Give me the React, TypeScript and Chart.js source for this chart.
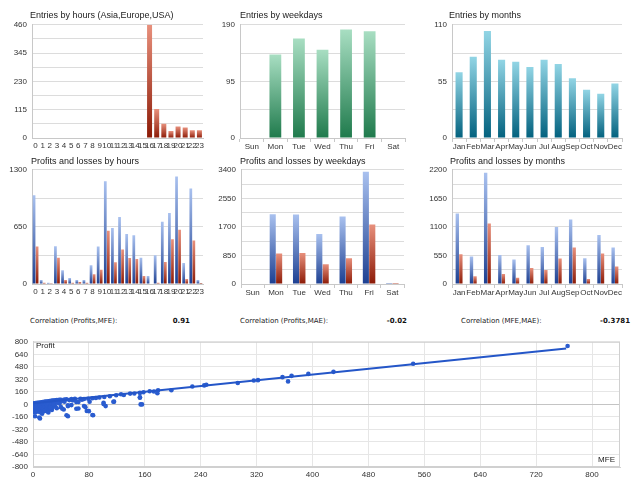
import { useEffect, useRef } from "react";
import { Chart, registerables } from "chart.js";

Chart.register(...registerables);

const hourLabels = ['0', '1', '2', '3', '4', '5', '6', '7', '8', '9', '10', '11', '12', '13', '14', '15', '16', '17', '18', '19', '20', '21', '22', '23'];
const dayLabels = ['Sun', 'Mon', 'Tue', 'Wed', 'Thu', 'Fri', 'Sat'];
const monthLabels = ['Jan', 'Feb', 'Mar', 'Apr', 'May', 'Jun', 'Jul', 'Aug', 'Sep', 'Oct', 'Nov', 'Dec'];

const entriesByHour = [0, 0, 0, 0, 0, 0, 0, 0, 0, 0, 0, 0, 0, 0, 0, 0, 460, 118, 58, 28, 47, 43, 31, 32];
const entriesByDay = [0, 140, 167, 148, 182, 179, 0];
const entriesByMonth = [64, 79, 104, 76, 74, 69, 76, 72, 58, 47, 43, 53];

const profitByHour = [1010, 45, 15, 431, 157, 67, 45, 45, 213, 427, 1169, 637, 764, 569, 554, 300, 90, 326, 708, 809, 1225, 240, 1086, 45];
const lossByHour = [427, 15, 3, 300, 45, 15, 22, 15, 112, 161, 607, 247, 393, 296, 285, 90, 0, 15, 251, 510, 618, 56, 494, 10];
const profitByDay = [0, 2079, 2070, 1488, 2010, 3341, 30];
const lossByDay = [0, 907, 926, 591, 769, 1774, 30];
const profitByMonth = [1358, 529, 2143, 561, 472, 746, 714, 1097, 1243, 497, 944, 701];
const lossByMonth = [574, 147, 1167, 191, 121, 306, 268, 491, 701, 96, 587, 338];

const correlations = [
  { label: 'Correlation (Profits,MFE):', value: '0.91' },
  { label: 'Correlation (Profits,MAE):', value: '-0.02' },
  { label: 'Correlation (MFE,MAE):', value: '-0.3781' },
];

// scatter: MFE vs Profit
const mfeValues = [
  0, 0, 0, 0, 1, 1, 1, 2, 2, 2, 2, 3, 3, 3, 4, 4, 4, 5, 5, 5, 6, 6, 6, 7, 7, 7, 8, 8, 9, 9,
  10, 10, 10, 11, 11, 12, 12, 13, 13, 14, 14, 15, 15, 16, 16, 17, 18, 18, 19, 20, 20, 21, 22, 22, 23, 24, 24, 26, 26, 27,
  28, 28, 30, 30, 32, 32, 34, 34, 36, 38, 38, 40, 42, 45, 48, 52, 55, 58, 60, 62, 68, 70, 85, 95, 110, 130, 145,
  65, 73, 79, 90, 102, 119, 126, 139, 153, 158, 167, 173, 179, 178, 198, 228, 248, 153, 156, 116, 101, 104, 101, 81, 80, 86,
  75, 65, 50, 55, 44, 22, 10, 3, 16, 25, 40, 50, 30, 35, 45, 57, 73, 50, 42, 62, 77, 85, 48, 13, 9, 115, 154, 153,
  245, 293, 316, 322, 357, 365, 370, 394, 430, 544, 765,
];
const profitValues = [
  10, -20, -45, -70, 5, -30, -90, 15, -10, -55, -100, 0, -35, -75, 18, -15, -60, 10, -40, -95, 20, -5, -65, 12, -25, -80, 22, -45, 5, -70,
  25, -10, -100, 15, -55, 28, -30, 8, -85, 30, -40, 18, -62, 32, -20, -75, 35, 5, -45, 38, -15, -90, 40, 10, -60, 42, -30, 45, -5, -70,
  48, -40, 50, 20, 52, -25, 55, -50, 56, 58, 10, 60, 45, 62, 65, 55, 68, 60, 70, 30, 72, 60, 78, 88, 105, 120, 140,
  30, 69, 73, 82, 95, 117, 130, 138, 147, 156, 168, 164, 181, 143, 181, 229, 251, 86, 0, 35, 22, -22, 4, 35, -86, -138,
  -35, -52, -151, -9, -65, -104, -181, -151, -86, -43, -35, -22, 0, 22, 35, 52, -21, -13, -55, -55, -84, -135, -139, -118, -169, 33, 0, 92,
  243, 273, 306, 310, 348, 294, 365, 390, 416, 520, 747,
];
const trendMfe = [0, 763];
const trendProfit = [15, 713];

const tickFont = { family: "'Liberation Sans', Arial, sans-serif", size: 8 };

function barGradient(top: string, bottom: string) {
  return (c: any) => {
    const chart = c.chart;
    const y = chart.scales?.y;
    if (!y || c.raw == null) return bottom;
    const y0 = y.getPixelForValue(0);
    const y1 = y.getPixelForValue(c.raw);
    if (!isFinite(y0) || !isFinite(y1) || Math.abs(y0 - y1) < 1) return bottom;
    const g = chart.ctx.createLinearGradient(0, y1, 0, y0);
    g.addColorStop(0, top);
    g.addColorStop(1, bottom);
    return g;
  };
}

const red = barGradient('#e8907c', '#8c1a06');
const blue = barGradient('#a9c1ef', '#1c3f91');
const green = barGradient('#a8dec2', '#1f7a4c');
const teal = barGradient('#92d5e5', '#02617e');

function barConfig(labels: string[], datasets: any[], max: number, step: number, axisW: number, padRight: number, xH: number, tickMarks: boolean) {
  return {
    type: 'bar',
    data: { labels, datasets },
    options: {
      animation: false,
      responsive: true,
      maintainAspectRatio: false,
      layout: { padding: { top: 8, right: padRight, left: 0, bottom: 0 } },
      plugins: { legend: { display: false }, tooltip: { enabled: false } },
      scales: {
        x: {
          grid: { display: true, drawOnChartArea: false, drawTicks: tickMarks, tickLength: 4, color: '#c8c8c8' },
          border: { color: '#c8c8c8' },
          ticks: { font: tickFont, color: '#333', autoSkip: false, maxRotation: 0, padding: tickMarks ? 0 : 3 },
          afterFit: (s: any) => { s.height = xH; },
        },
        y: {
          min: 0,
          max,
          border: { color: '#c8c8c8' },
          grid: { color: '#dcdcdc', drawTicks: false },
          ticks: {
            stepSize: step / 2,
            autoSkip: false,
            font: tickFont,
            color: '#333',
            padding: 5,
            callback: (v: any) => (Math.round(v / (step / 2)) % 2 === 0 ? String(v) : ''),
          },
          afterFit: (s: any) => { s.width = axisW; },
        },
      },
    },
  };
}

const framePlugin = {
  id: 'frame',
  beforeDatasetsDraw(chart: any) {
    const { ctx, chartArea: a } = chart;
    ctx.save();
    ctx.strokeStyle = '#d0d0d0';
    ctx.lineWidth = 1;
    ctx.strokeRect(a.left + 0.5, a.top + 0.5, a.width - 1, a.height - 1);
    ctx.restore();
  },
};

function scatterConfig() {
  return {
    type: 'scatter',
    data: {
      datasets: [
        {
          type: 'line',
          data: trendMfe.map((x, i) => ({ x, y: trendProfit[i] })),
          borderColor: '#2456c8',
          borderWidth: 2,
          pointRadius: 0,
        },
        {
          data: mfeValues.map((x, i) => ({ x, y: profitValues[i] })),
          backgroundColor: '#2a5ccf',
          borderWidth: 0,
          pointRadius: 2.3,
        },
      ],
    },
    options: {
      animation: false,
      responsive: true,
      maintainAspectRatio: false,
      layout: { padding: { top: 8, right: 20, left: 0, bottom: 0 } },
      plugins: { legend: { display: false }, tooltip: { enabled: false } },
      scales: {
        x: {
          type: 'linear',
          min: 0,
          max: 840,
          border: { color: '#d0d0d0' },
          grid: { color: '#e6e6e6', drawTicks: false },
          ticks: { stepSize: 80, autoSkip: false, font: tickFont, color: '#333', padding: 3, maxRotation: 0 },
          afterBuildTicks: (s: any) => { s.ticks = s.ticks.filter((t: any) => t.value % 80 === 0); },
          afterFit: (s: any) => { s.height = 13; },
        },
        y: {
          min: -800,
          max: 800,
          border: { color: '#d0d0d0' },
          grid: { color: (c: any) => (c.tick && c.tick.value === 0 ? '#c4c4c4' : '#e6e6e6'), drawTicks: false },
          ticks: { stepSize: 160, autoSkip: false, font: tickFont, color: '#333', padding: 5 },
          afterFit: (s: any) => { s.width = 33; },
        },
      },
    },
    plugins: [framePlugin],
  };
}

function ChartBox({ left, top, width, height, config }: { left: number; top: number; width: number; height: number; config: any }) {
  const ref = useRef<HTMLCanvasElement>(null);
  useEffect(() => {
    if (!ref.current) return;
    const chart = new Chart(ref.current, config);
    return () => chart.destroy();
  }, []);
  return (
    <div style={{ position: 'absolute', left, top, width, height }}>
      <canvas ref={ref}></canvas>
    </div>
  );
}

const titleStyle = (left: number, top: number): any => ({
  position: 'absolute',
  left,
  top,
  fontFamily: "'Liberation Sans', Arial, sans-serif",
  fontSize: 9,
  lineHeight: '10px',
  color: '#222',
  whiteSpace: 'nowrap',
});

export default function App() {
  const corrX = [30, 240, 461];
  const corrEnd = [190, 407, 630];
  return (
    <div style={{ position: 'absolute', left: 0, top: 0, width: 640, height: 480, background: '#fff', overflow: 'hidden' }}>
      <ChartBox left={0} top={15} width={213} height={138}
        config={barConfig(hourLabels, [{ data: entriesByHour, backgroundColor: red, categoryPercentage: 1, barPercentage: 0.7 }], 460, 115, 32, 10, 15, false)} />
      <ChartBox left={210} top={15} width={213} height={138}
        config={barConfig(dayLabels, [{ data: entriesByDay, backgroundColor: green, categoryPercentage: 1, barPercentage: 0.5 }], 190, 95, 30, 18, 15, true)} />
      <ChartBox left={425} top={15} width={215} height={138}
        config={barConfig(monthLabels, [{ data: entriesByMonth, backgroundColor: teal, categoryPercentage: 1, barPercentage: 0.5 }], 110, 55, 27, 18, 15, true)} />

      <ChartBox left={0} top={160} width={213} height={138}
        config={barConfig(hourLabels, [
          { data: profitByHour, backgroundColor: blue, categoryPercentage: 0.85, barPercentage: 0.9 },
          { data: lossByHour, backgroundColor: red, categoryPercentage: 0.85, barPercentage: 0.9 },
        ], 1300, 650, 32, 10, 14, false)} />
      <ChartBox left={210} top={160} width={213} height={138}
        config={barConfig(dayLabels, [
          { data: profitByDay, backgroundColor: blue, categoryPercentage: 0.55, barPercentage: 0.95 },
          { data: lossByDay, backgroundColor: red, categoryPercentage: 0.55, barPercentage: 0.95 },
        ], 3400, 850, 31, 19, 14, true)} />
      <ChartBox left={425} top={160} width={215} height={138}
        config={barConfig(monthLabels, [
          { data: profitByMonth, backgroundColor: blue, categoryPercentage: 0.5, barPercentage: 0.95 },
          { data: lossByMonth, backgroundColor: red, categoryPercentage: 0.5, barPercentage: 0.95 },
        ], 2200, 550, 27, 18, 14, true)} />

      <div style={titleStyle(30, 10)}>Entries by hours (Asia,Europe,USA)</div>
      <div style={titleStyle(240, 10)}>Entries by weekdays</div>
      <div style={titleStyle(449, 10)}>Entries by months</div>
      <div style={titleStyle(31, 156)}>Profits and losses by hours</div>
      <div style={titleStyle(240, 156)}>Profits and losses by weekdays</div>
      <div style={titleStyle(450, 156)}>Profits and losses by months</div>

      {correlations.map((c, i) => (
        <div key={i}>
          <div style={{ position: 'absolute', left: corrX[i], top: 316, fontFamily: "'DejaVu Sans', sans-serif", fontSize: 7, lineHeight: '10px', color: '#222', whiteSpace: 'nowrap' }}>{c.label}</div>
          <div style={{ position: 'absolute', right: 640 - corrEnd[i], top: 316, fontFamily: "'DejaVu Sans', sans-serif", fontSize: 7, fontWeight: 'bold', lineHeight: '10px', color: '#111', whiteSpace: 'nowrap' }}>{c.value}</div>
        </div>
      ))}

      <ChartBox left={0} top={332} width={640} height={148} config={scatterConfig()} />
      <div style={{ position: 'absolute', left: 36, top: 341, fontFamily: "'Liberation Sans', Arial, sans-serif", fontSize: 8, lineHeight: '9px', color: '#222' }}>Profit</div>
      <div style={{ position: 'absolute', right: 640 - 615, top: 455, fontFamily: "'Liberation Sans', Arial, sans-serif", fontSize: 8, lineHeight: '9px', color: '#222' }}>MFE</div>
    </div>
  );
}
